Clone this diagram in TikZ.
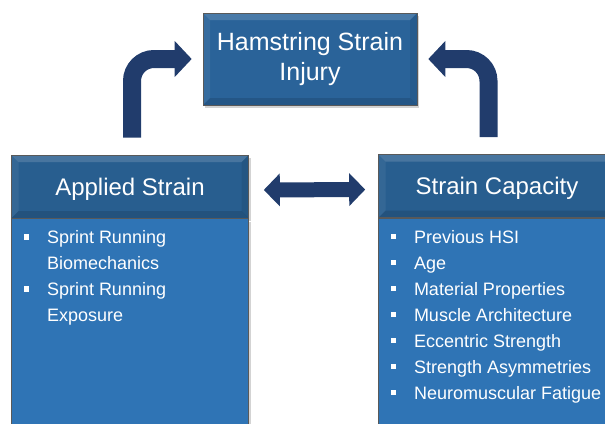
\documentclass[tikz,border=0pt]{standalone}
\usepackage{fontspec}
\setmainfont{Liberation Sans}
\usetikzlibrary{arrows.meta,shadows}
\definecolor{boxblue}{HTML}{2A6399}
\definecolor{headblue}{HTML}{285E8F}
\definecolor{bodyblue}{HTML}{2F74B5}
\definecolor{arrownavy}{HTML}{213C6C}
\newcommand\sqbul{\rule[4pt]{5.5pt}{5.5pt}}
\tikzset{
  bevelbox/.style = {
    draw=black!65, line width=0.6pt, fill=#1, text=white,
    drop shadow={opacity=.35, shadow xshift=2pt, shadow yshift=-3pt},
    path picture={
      \fill[white,opacity=.15] (path picture bounding box.north west) -- (path picture bounding box.north east)
        -- ([shift={(-7pt,-7pt)}]path picture bounding box.north east) -- ([shift={(7pt,-7pt)}]path picture bounding box.north west) -- cycle;
      \fill[white,opacity=.06] (path picture bounding box.north west) -- (path picture bounding box.south west)
        -- ([shift={(7pt,7pt)}]path picture bounding box.south west) -- ([shift={(7pt,-7pt)}]path picture bounding box.north west) -- cycle;
      \fill[black,opacity=.08] (path picture bounding box.north east) -- (path picture bounding box.south east)
        -- ([shift={(-7pt,7pt)}]path picture bounding box.south east) -- ([shift={(-7pt,-7pt)}]path picture bounding box.north east) -- cycle;
      \fill[black,opacity=.12] (path picture bounding box.south west) -- (path picture bounding box.south east)
        -- ([shift={(-7pt,7pt)}]path picture bounding box.south east) -- ([shift={(7pt,7pt)}]path picture bounding box.south west) -- cycle;
    }
  },
  headbox/.style = {
    bevelbox=headblue, minimum width=237pt, minimum height=63pt,
    font=\fontsize{24}{28}\selectfont, text height=17pt, text depth=0pt
  },
  bodybox/.style = {
    draw=black!65, line width=0.6pt, fill=bodyblue, text=white, anchor=north west,
    minimum width=237pt, inner xsep=11pt, inner ysep=7pt,
    drop shadow={opacity=.35, shadow xshift=2pt, shadow yshift=-3pt},
    font=\fontsize{18}{26}\selectfont
  },
  bentarrow/.style = {
    draw=arrownavy, line width=18pt, rounded corners=22pt,
    -{Triangle[length=17pt,width=35pt]}, shorten >=11pt
  },
  twoarrow/.style = {
    draw=arrownavy, line width=15pt,
    {Triangle[length=16pt,width=32pt]}-{Triangle[length=16pt,width=32pt]}
  }
}

\begin{document}
\begin{tikzpicture}[x=1pt,y=-1pt]
  \useasboundingbox (0,0) rectangle (605,423);
  \clip (0,0) rectangle (605,423);
  % boxes
  \node[bevelbox=boxblue, minimum width=214pt, minimum height=92pt, align=center,
        font=\fontsize{25}{30}\selectfont] (injury) at (310,59) {Hamstring Strain\\Injury};
  \node[headbox] (applied) at (130,186.5) {Applied Strain};
  \node[headbox] (capacity) at (497,186) {Strain Capacity};
  \node[bodybox] (appliedbody) at (applied.south west) {\parbox[t][215pt][t]{213pt}{%
    \begin{tabular}{@{}l@{\hspace{18pt}}l@{}}
      \sqbul & Sprint Running\\
             & Biomechanics\\
      \sqbul & Sprint Running\\
             & Exposure
    \end{tabular}}};
  \node[bodybox] (capacitybody) at (capacity.south west) {\parbox[t][215pt][t]{213pt}{%
    \begin{tabular}{@{}l@{\hspace{18pt}}l@{}}
      \sqbul & Previous HSI\\
      \sqbul & Age\\
      \sqbul & Material Properties\\
      \sqbul & Muscle Architecture\\
      \sqbul & Eccentric Strength\\
      \sqbul & Strength Asymmetries\\
      \sqbul & Neuromuscular Fatigue
    \end{tabular}}};
  % arrows
  \draw[bentarrow] ([shift={(2pt,17pt)}]applied.north) |- (injury.west);
  \draw[bentarrow] ([shift={(-8.5pt,17pt)}]capacity.north) |- (injury.east);
  \draw[twoarrow, shorten <=15pt, shorten >=13pt] ([yshift=-3.5pt]applied.east) -- ([yshift=-3.5pt]capacity.west);
\end{tikzpicture}
\end{document}
